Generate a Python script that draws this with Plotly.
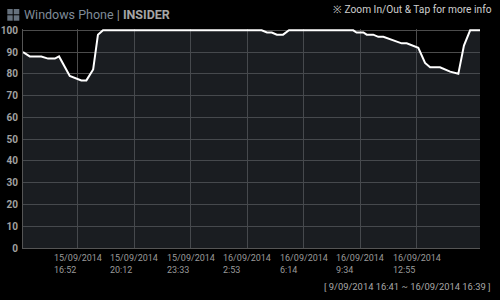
import plotly.graph_objects as go

# ---- data ----
times = [
    "2014-09-15 13:37", "2014-09-15 14:01", "2014-09-15 14:42", "2014-09-15 15:06",
    "2014-09-15 15:30", "2014-09-15 15:45", "2014-09-15 16:23", "2014-09-15 16:41",
    "2014-09-15 17:04", "2014-09-15 17:22", "2014-09-15 17:46", "2014-09-15 18:03",
    "2014-09-15 18:21", "2014-09-16 03:44", "2014-09-16 04:03", "2014-09-16 04:20",
    "2014-09-16 04:38", "2014-09-16 05:00", "2014-09-16 05:21", "2014-09-16 09:09",
    "2014-09-16 09:21", "2014-09-16 09:45", "2014-09-16 09:57", "2014-09-16 10:20",
    "2014-09-16 10:38", "2014-09-16 10:56", "2014-09-16 11:20", "2014-09-16 12:01",
    "2014-09-16 12:19", "2014-09-16 12:37", "2014-09-16 13:00", "2014-09-16 13:24",
    "2014-09-16 13:42", "2014-09-16 14:17", "2014-09-16 14:53", "2014-09-16 15:22",
    "2014-09-16 15:42", "2014-09-16 16:04", "2014-09-16 16:39",
]
values = [
    90, 88, 88, 87, 87, 88, 79, 78, 77, 77, 82, 98,
    100, 100, 99, 99, 98, 98, 100, 100, 99, 99, 98, 98,
    97, 97, 96, 94, 94, 93, 92, 85, 83, 83, 81, 80,
    93, 100, 100,
]
tick_times = [
    "2014-09-15 16:52", "2014-09-15 20:12", "2014-09-15 23:33", "2014-09-16 02:53",
    "2014-09-16 06:14", "2014-09-16 09:34", "2014-09-16 12:55",
]
tick_labels = [
    "15/09/2014<br>16:52", "15/09/2014<br>20:12", "15/09/2014<br>23:33",
    "16/09/2014<br>2:53", "16/09/2014<br>6:14", "16/09/2014<br>9:34",
    "16/09/2014<br>12:55",
]
y_ticks = list(range(0, 101, 10))
x_range = ["2014-09-15 13:37", "2014-09-16 16:39"]
title_text = "Windows Phone <span style='color:#9a9a9a'>|</span> <b style='color:#a6a6a6'>INSIDER</b>"
hint_text = "※ Zoom In/Out &amp; Tap for more info"
range_text = "[ 9/09/2014 16:41 ~ 16/09/2014 16:39 ]"

W, H = 500, 300
L, R, T, B = 23, 20, 29, 52
PW, PH = W - L - R, H - T - B


def px(x):
    return (x - L) / PW


def py(y):
    return (H - B - y) / PH


FONT = "Roboto"

fig = go.Figure()
fig.add_trace(go.Scatter(
    x=times, y=values, mode="lines",
    line=dict(color="#ffffff", width=2),
    fill="tozeroy", fillcolor="rgba(62,68,78,0.42)",
    hoverinfo="skip", showlegend=False,
))

annotations = []
for t, lab in zip(tick_times, tick_labels):
    annotations.append(dict(
        x=t, y=-0.012, xref="x", yref="paper", text=lab, showarrow=False,
        xanchor="center", yanchor="top", align="left",
        font=dict(family=FONT, size=9, color="#9a9a9a"),
    ))
annotations.append(dict(
    x=px(22), y=py(15), xref="paper", yref="paper", text=title_text,
    showarrow=False, xanchor="left", yanchor="middle",
    font=dict(family=FONT, size=12.5, color="#7f8b98"),
))
annotations.append(dict(
    x=px(494), y=py(10), xref="paper", yref="paper", text=hint_text,
    showarrow=False, xanchor="right", yanchor="middle",
    font=dict(family=FONT, size=10.2, color="#cfcfcf"),
))
annotations.append(dict(
    x=px(493), y=py(286), xref="paper", yref="paper", text=range_text,
    showarrow=False, xanchor="right", yanchor="middle",
    font=dict(family=FONT, size=9.4, color="#a8a8a8"),
))

logo_color = "#66717d"
shapes = []
for (x0, x1) in [(7.3, 12.7), (13.7, 19.3)]:
    for (y0, y1) in [(9, 14.3), (15.3, 20.7)]:
        shapes.append(dict(
            type="rect", xref="paper", yref="paper",
            x0=px(x0), x1=px(x1), y0=py(y1), y1=py(y0),
            fillcolor=logo_color, line=dict(width=0),
        ))

fig.update_layout(
    width=W, height=H,
    margin=dict(l=L, r=R, t=T, b=B, pad=0, autoexpand=False),
    paper_bgcolor="#000000", plot_bgcolor="#000000",
    annotations=annotations, shapes=shapes,
    xaxis=dict(
        type="date", range=x_range, tickvals=tick_times, showticklabels=False,
        showgrid=True, gridcolor="#4c4c4c", gridwidth=1, ticks="",
        showline=True, linecolor="#555555", linewidth=1, zeroline=False,
        fixedrange=True, automargin=False,
    ),
    yaxis=dict(
        range=[0, 100.6], tickvals=y_ticks, showgrid=True, gridcolor="#4c4c4c",
        gridwidth=1, ticks="", showline=True, linecolor="#555555", linewidth=1,
        zeroline=False, ticklabelstandoff=2, automargin=False,
        tickfont=dict(family=FONT, size=10, color="#a0a0a0", weight="bold"),
        fixedrange=True,
    ),
    font=dict(family=FONT),
)

fig.write_html("out.html", config={"displayModeBar": False})
